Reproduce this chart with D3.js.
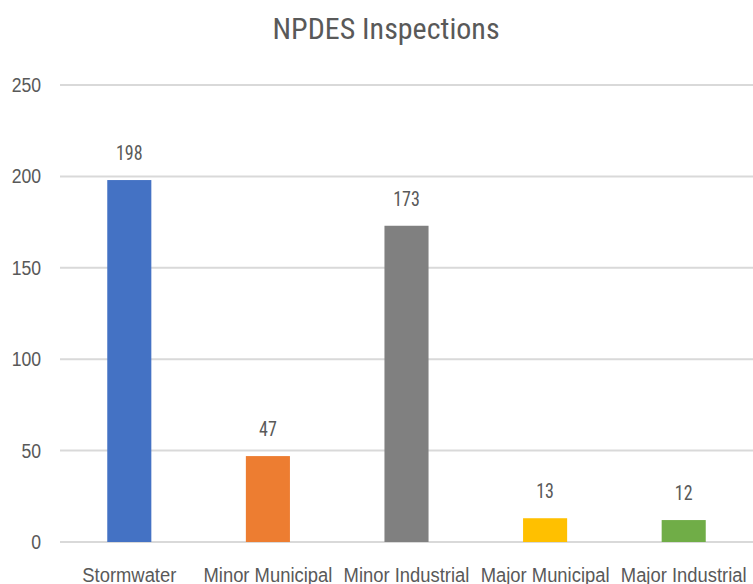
<!DOCTYPE html>
<html><head><meta charset="utf-8">
<script src="https://cdn.jsdelivr.net/npm/d3@7"></script>
<style>
html,body{margin:0;padding:0;background:#fff;overflow:hidden}
text{font-family:"Liberation Sans Narrow","Arial Narrow","Roboto Condensed","Liberation Sans",sans-serif;fill:#595959}
</style></head>
<body>
<svg id="c" width="753" height="584"></svg>
<script>
const categories = ["Stormwater","Minor Municipal","Minor Industrial","Major Municipal","Major Industrial"];
const values = [198, 47, 173, 13, 12];
const colors = ["#4472C4","#ED7D31","#808080","#FFC000","#70AD47"];
const yTicks = [0, 50, 100, 150, 200, 250];
const title = "NPDES Inspections";

const FONT = '"Liberation Sans Narrow","Arial Narrow",sans-serif';
function squeeze(sel, f) {
  sel.each(function () {
    const w = this.getComputedTextLength();
    d3.select(this).attr("textLength", w * f).attr("lengthAdjust", "spacingAndGlyphs");
  });
}

const svg = d3.select("#c");
const x = d3.scaleBand().domain(categories).range([60, 753]).paddingInner(0.682).paddingOuter(0.341);
const y = d3.scaleLinear().domain([0, 250]).range([542, 85]);

// gridlines
svg.append("g").selectAll("line").data(yTicks).join("line")
  .attr("x1", 60).attr("x2", 753)
  .attr("y1", d => y(d)).attr("y2", d => y(d))
  .attr("stroke", "#d9d9d9").attr("stroke-width", 2);

// y axis labels
const yAxis = d3.axisLeft(y).tickValues(yTicks).tickSize(0).tickPadding(0);
const yg = svg.append("g").attr("transform", "translate(41,0)").call(yAxis);
yg.select(".domain").remove();
yg.selectAll("text").attr("font-size", 20).style("fill", "#595959").style("font-family", FONT);
squeeze(yg.selectAll("text"), 0.88);

// bars
svg.append("g").selectAll("rect").data(categories).join("rect")
  .attr("x", d => x(d)).attr("width", x.bandwidth())
  .attr("y", (d, i) => y(values[i]))
  .attr("height", (d, i) => y(0) - y(values[i]))
  .attr("fill", (d, i) => colors[i]);

// value labels
const vl = svg.append("g").selectAll("text").data(categories).join("text")
  .attr("x", d => x(d) + x.bandwidth() / 2)
  .attr("y", (d, i) => y(values[i]) - 20)
  .attr("text-anchor", "middle").attr("font-size", 20)
  .text((d, i) => values[i]);
squeeze(vl, 0.9);

// x axis labels
const xAxis = d3.axisBottom(x).tickSize(0).tickPadding(0);
const xg = svg.append("g").attr("transform", "translate(0,568)").call(xAxis);
xg.select(".domain").remove();
xg.selectAll("text").attr("font-size", 20).attr("dy", "0.71em").style("fill", "#595959").style("font-family", FONT);
squeeze(xg.selectAll("text"), 0.92);

// title
svg.append("text").attr("x", 386).attr("y", 39).attr("text-anchor", "middle")
  .attr("font-size", 30).text(title);
</script>
</body></html>
